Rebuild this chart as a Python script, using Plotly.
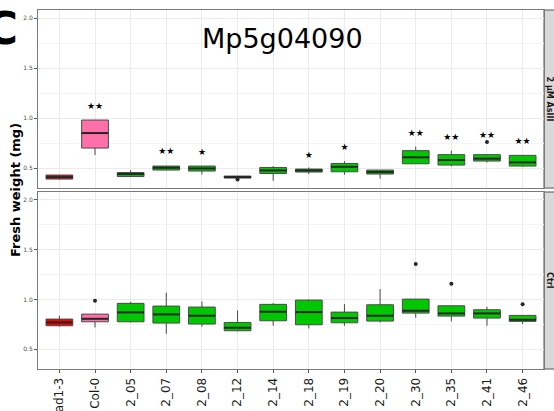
import plotly.graph_objects as go

categories = ["cad1-3", "Col-0", "2_05", "2_07", "2_08", "2_12", "2_14",
              "2_18", "2_19", "2_20", "2_30", "2_35", "2_41", "2_46"]
fills = ["#F20000", "#FF6FA8"] + ["#00C800"] * 12

# 2 µM AsIII panel
as_q1 = [0.390, 0.700, 0.415, 0.480, 0.470, 0.400, 0.446, 0.460, 0.463, 0.440, 0.543, 0.530, 0.570, 0.520]
as_med = [0.410, 0.850, 0.440, 0.503, 0.496, 0.410, 0.476, 0.476, 0.513, 0.460, 0.607, 0.580, 0.594, 0.556]
as_q3 = [0.430, 0.980, 0.455, 0.520, 0.520, 0.420, 0.506, 0.490, 0.546, 0.480, 0.674, 0.634, 0.634, 0.627]
as_lo = [0.385, 0.630, 0.415, 0.480, 0.435, 0.400, 0.372, 0.440, 0.433, 0.395, 0.543, 0.516, 0.556, 0.515]
as_hi = [0.430, 0.980, 0.480, 0.520, 0.520, 0.420, 0.520, 0.506, 0.570, 0.480, 0.714, 0.674, 0.634, 0.627]
as_out_cat = ["2_12", "2_41"]
as_out_val = [0.385, 0.760]
as_stars = ["", "★★", "", "★★", "★", "", "", "★", "★", "", "★★", "★★", "★★", "★★"]
as_star_y = [None, 1.11, None, 0.664, 0.654, None, None, 0.620, 0.707, None, 0.838, 0.808, 0.828, 0.765]

# Ctrl panel
ct_q1 = [0.735, 0.775, 0.775, 0.762, 0.752, 0.685, 0.785, 0.745, 0.765, 0.782, 0.862, 0.832, 0.812, 0.779]
ct_med = [0.768, 0.805, 0.869, 0.849, 0.836, 0.715, 0.876, 0.872, 0.812, 0.836, 0.886, 0.859, 0.859, 0.795]
ct_q3 = [0.802, 0.852, 0.960, 0.933, 0.923, 0.768, 0.950, 0.993, 0.872, 0.946, 1.003, 0.936, 0.896, 0.839]
ct_lo = [0.725, 0.718, 0.768, 0.654, 0.725, 0.678, 0.735, 0.708, 0.735, 0.768, 0.815, 0.779, 0.735, 0.752]
ct_hi = [0.836, 0.852, 0.976, 1.067, 0.980, 0.889, 0.963, 1.000, 0.953, 1.104, 1.003, 0.936, 0.926, 0.839]
ct_out_cat = ["Col-0", "2_30", "2_35", "2_46"]
ct_out_val = [0.987, 1.356, 1.158, 0.950]

panel_labels = ["2 µM AsIII", "Ctrl"]
title_text = "Mp5g04090"
y_title = "Fresh weight (mg)"
y_ticks = [0.5, 1.0, 1.5, 2.0]
y_minor = [0.75, 1.25, 1.75]

BW = 0.75
pos = list(range(len(categories)))
idx = {c: i for i, c in enumerate(categories)}

fig = go.Figure()

def add_panel(q1, med, q3, lo, hi, oc, ov, xa, ya):
    for i in pos:
        fig.add_trace(go.Box(
            x=[pos[i]], q1=[q1[i]], median=[med[i]], q3=[q3[i]],
            lowerfence=[lo[i]], upperfence=[hi[i]],
            width=BW, whiskerwidth=0, boxpoints=False,
            fillcolor=fills[i], line=dict(color="#4a4a4a", width=1),
            xaxis=xa, yaxis=ya, showlegend=False, hoverinfo="skip"))
    mx, my = [], []
    for i in pos:
        mx += [pos[i] - BW / 2, pos[i] + BW / 2, None]
        my += [med[i], med[i], None]
    fig.add_trace(go.Scatter(x=mx, y=my, mode="lines",
                             line=dict(color="#262626", width=2),
                             xaxis=xa, yaxis=ya, showlegend=False, hoverinfo="skip"))
    fig.add_trace(go.Scatter(x=[idx[c] for c in oc], y=ov, mode="markers",
                             marker=dict(color="#262626", size=4),
                             xaxis=xa, yaxis=ya, showlegend=False, hoverinfo="skip"))

add_panel(as_q1, as_med, as_q3, as_lo, as_hi, as_out_cat, as_out_val, "x", "y")
add_panel(ct_q1, ct_med, ct_q3, ct_lo, ct_hi, ct_out_cat, ct_out_val, "x2", "y2")

sx = [pos[i] for i in pos if as_stars[i]]
sy = [as_star_y[i] for i in pos if as_stars[i]]
st = [as_stars[i] for i in pos if as_stars[i]]
fig.add_trace(go.Scatter(x=sx, y=sy, text=st, mode="text",
                         textfont=dict(family="DejaVu Sans", size=9, color="black"),
                         xaxis="x", yaxis="y", showlegend=False, hoverinfo="skip"))

grid_major = "#EBEBEB"
border = "#7a7a7a"
xcommon = dict(range=[-0.6, len(categories) - 0.4], tickvals=pos,
               showgrid=True, gridcolor=grid_major, gridwidth=1,
               showline=True, linecolor=border, linewidth=1, mirror=True,
               zeroline=False, automargin=False, fixedrange=True)
ycommon = dict(range=[0.3, 2.08], tickvals=y_ticks, ticktext=["0.5", "1.0", "1.5", "2.0"],
               showgrid=True, gridcolor=grid_major, gridwidth=1,
               minor=dict(tickvals=y_minor, showgrid=True, gridcolor="#F5F5F5", gridwidth=0.6),
               ticks="outside", ticklen=3, tickcolor="#555", tickwidth=1,
               tickfont=dict(family="DejaVu Sans", size=6, color="#4d4d4d"),
               showline=True, linecolor=border, linewidth=1, mirror=True,
               zeroline=False, automargin=False, fixedrange=True)

fig.update_layout(
    width=554, height=411,
    margin=dict(l=38, r=10, t=10, b=42),
    paper_bgcolor="white", plot_bgcolor="white",
    template="none",
    xaxis=dict(**xcommon, anchor="y", showticklabels=False, ticks=""),
    xaxis2=dict(**xcommon, anchor="y2", matches="x", ticktext=categories,
                ticks="outside", ticklen=3, tickcolor="#555", tickangle=-90,
                tickfont=dict(family="DejaVu Sans", size=12, color="#1a1a1a")),
    yaxis=dict(**ycommon, domain=[0.504, 1.0], anchor="x"),
    yaxis2=dict(**ycommon, domain=[0.0, 0.493], anchor="x2"),
)

# facet strips
for lab, (y0, y1) in zip(panel_labels, [(0.504, 1.0), (0.0, 0.493)]):
    fig.add_shape(type="rect", xref="paper", yref="paper", x0=1.0, x1=1.04,
                  y0=y0, y1=y1, fillcolor="#D9D9D9", line=dict(color="#555", width=1),
                  layer="below")
    fig.add_annotation(xref="paper", yref="paper", x=1.0, xshift=5.5, xanchor="center",
                       y=(y0 + y1) / 2, yanchor="middle",
                       text="<b>%s</b>" % lab, showarrow=False, textangle=90,
                       font=dict(family="DejaVu Sans", size=8, color="#1a1a1a"))

fig.add_annotation(xref="paper", yref="paper", x=0.484, xanchor="center",
                   y=0.922, yanchor="middle", text=title_text,
                   showarrow=False, font=dict(family="DejaVu Sans", size=27, color="black"))
fig.add_annotation(xref="paper", yref="paper", x=0, xshift=-23, xanchor="center",
                   y=0.4986, yanchor="middle",
                   text="<b>%s</b>" % y_title, showarrow=False, textangle=-90,
                   font=dict(family="DejaVu Sans", size=13, color="black"))
fig.add_annotation(xref="paper", yref="paper", x=(-17 - 38) / 506, xanchor="left",
                   y=(369 - 28) / 359, yanchor="middle", text="<b>C</b>", showarrow=False,
                   font=dict(family="DejaVu Sans", size=45, color="black"))

fig.write_html("out.html")
